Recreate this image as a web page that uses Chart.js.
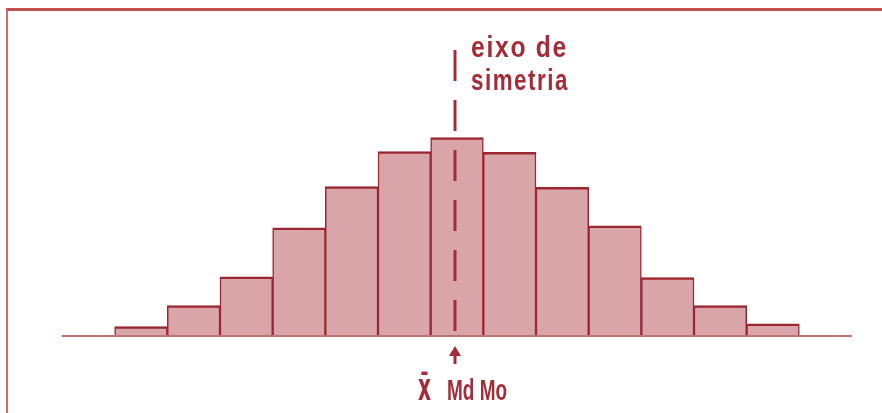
<!DOCTYPE html>
<html>
<head>
<meta charset="utf-8">
<script src="https://cdn.jsdelivr.net/npm/chart.js@4.4.0/dist/chart.umd.min.js"></script>
<style>
  html, body { margin: 0; padding: 0; background: #ffffff; }
  #wrap { position: relative; width: 882px; height: 413px; overflow: hidden; }
  #frame { position: absolute; left: 6px; top: 8px; width: 900px; height: 420px;
           border-top: 3px solid #c0504f; border-left: 2px solid #d36c6c;
           box-sizing: border-box; pointer-events: none; }
  canvas { position: absolute; left: 0; top: 0; }
</style>
</head>
<body>
<div id="wrap">
  <canvas id="c" width="882" height="413"></canvas>
  <div id="frame"></div>
</div>
<script>
// ---- data ----
const categories = ['', 'c1', 'c2', 'c3', 'c4', 'c5', 'c6', 'c7', 'c8', 'c9', 'c10', 'c11', 'c12', 'c13', ''];
const frequencies = [null, 1.2, 4.2, 8.3, 15.3, 21.2, 26.2, 28.2, 26.1, 21.1, 15.6, 8.2, 4.2, 1.6, null];
const symmetryIndex = 7;          // category holding the mean / median / mode
const symmetryTop = 40.7;         // top of the dashed axis, in frequency units
const axisLabelLines = ['eixo de', 'simetria'];
const axisLabelValues = [39.7, 35.0];
const measureLabelX = 'x\u0304';
const measureLabelRest = 'Md Mo';

const darkRed = '#a32c37';

const overlay = {
  id: 'overlay',
  afterDatasetsDraw(chart) {
    const { ctx, chartArea, scales: { x, y } } = chart;
    const base = y.getPixelForValue(0);
    ctx.save();
    // baseline
    ctx.strokeStyle = '#bb7476';
    ctx.lineWidth = 2;
    ctx.beginPath();
    ctx.moveTo(chartArea.left, base + 1);
    ctx.lineTo(chartArea.right, base + 1);
    ctx.stroke();
    // dashed symmetry axis
    const xm = x.getPixelForValue(symmetryIndex) - 2;
    ctx.strokeStyle = darkRed;
    ctx.lineWidth = 3;
    ctx.setLineDash([31, 19]);
    ctx.beginPath();
    ctx.moveTo(xm, y.getPixelForValue(symmetryTop));
    ctx.lineTo(xm, base - 2);
    ctx.stroke();
    ctx.setLineDash([]);
    // label of the axis
    ctx.fillStyle = darkRed;
    ctx.textBaseline = 'alphabetic';
    ctx.textAlign = 'left';
    ctx.font = 'bold 29px "Liberation Sans Narrow", "Liberation Sans", sans-serif';
    try { ctx.letterSpacing = '2px'; } catch (e) {}
    ctx.fillText(axisLabelLines[0], xm + 16, y.getPixelForValue(axisLabelValues[0]), 97);
    ctx.fillText(axisLabelLines[1], xm + 16, y.getPixelForValue(axisLabelValues[1]), 98);
    try { ctx.letterSpacing = '0px'; } catch (e) {}
    // arrow
    ctx.beginPath();
    ctx.moveTo(xm, base + 11);
    ctx.lineTo(xm - 6, base + 21);
    ctx.lineTo(xm + 6, base + 21);
    ctx.closePath();
    ctx.fill();
    ctx.fillRect(xm - 1.5, base + 19, 3, 10);
    // measures
    ctx.font = 'bold 38px "DejaVu Sans", sans-serif';
    ctx.fillText(measureLabelX, xm - 37, base + 65, 13);
    ctx.font = 'bold 29px "Liberation Sans Narrow", "Liberation Sans", sans-serif';
    ctx.fillText(measureLabelRest, xm - 8, base + 65, 60);
    ctx.restore();
  }
};

new Chart(document.getElementById('c'), {
  type: 'bar',
  data: {
    labels: categories,
    datasets: [{
      data: frequencies,
      backgroundColor: '#daa5a8',
      borderColor: '#9a2630',
      borderWidth: { top: 2.5, left: 1.5, right: 1.5, bottom: 0 },
      borderSkipped: false,
      categoryPercentage: 1.0,
      barPercentage: 1.0
    }]
  },
  options: {
    responsive: false,
    animation: false,
    layout: { padding: { left: 62, right: 30, top: 41, bottom: 78 } },
    plugins: { legend: { display: false }, tooltip: { enabled: false }, title: { display: false } },
    scales: {
      x: { display: false },
      y: { display: false, min: 0, max: 42 }
    }
  },
  plugins: [overlay]
});
</script>
</body>
</html>
